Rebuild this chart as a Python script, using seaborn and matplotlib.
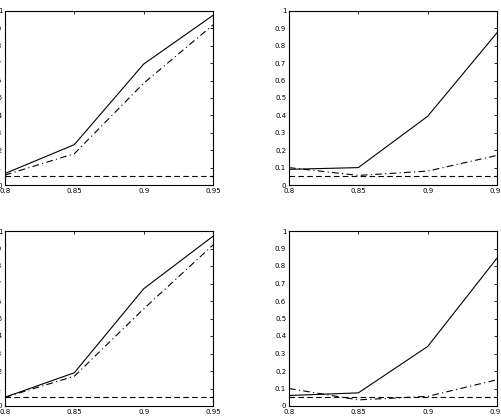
import matplotlib
matplotlib.use("Agg")
import matplotlib.pyplot as plt
import seaborn as sns
import pandas as pd

x = [0.8, 0.85, 0.9, 0.95]

# solid, dash-dot, dashed series per panel
tl_solid = [0.066, 0.232, 0.695, 0.975]
tl_dashdot = [0.057, 0.18, 0.585, 0.92]
tl_dashed = [0.05, 0.05, 0.05, 0.05]

tr_solid = [0.09, 0.10, 0.395, 0.875]
tr_dashdot = [0.10, 0.055, 0.08, 0.17]
tr_dashed = [0.05, 0.05, 0.05, 0.05]

bl_solid = [0.05, 0.19, 0.67, 0.97]
bl_dashdot = [0.05, 0.17, 0.555, 0.92]
bl_dashed = [0.05, 0.05, 0.05, 0.05]

br_solid = [0.06, 0.075, 0.34, 0.845]
br_dashdot = [0.10, 0.035, 0.055, 0.15]
br_dashed = [0.05, 0.05, 0.05, 0.05]

panels = [
    (tl_solid, tl_dashdot, tl_dashed),
    (tr_solid, tr_dashdot, tr_dashed),
    (bl_solid, bl_dashdot, bl_dashed),
    (br_solid, br_dashdot, br_dashed),
]

yticks = [0, 0.1, 0.2, 0.3, 0.4, 0.5, 0.6, 0.7, 0.8, 0.9, 1]
xticks = [0.8, 0.85, 0.9, 0.95]

sns.set_style("white")
plt.rcParams["font.family"] = ["DejaVu Sans"]

W, H = 502, 420
fig = plt.figure(figsize=(W / 100, H / 100), dpi=100)

# axes boxes in pixels: left, top, right, bottom
boxes = [
    (5, 11, 213, 185),
    (289, 11, 497, 185),
    (5, 231, 213, 406),
    (289, 231, 497, 406),
]

for (solid, dashdot, dashed), (l, t, r, b) in zip(panels, boxes):
    ax = fig.add_axes([l / W, 1 - b / H, (r - l) / W, (b - t) / H])
    df = pd.DataFrame({"x": x, "solid": solid, "dashdot": dashdot, "dashed": dashed})
    sns.lineplot(data=df, x="x", y="solid", ax=ax, color="black", linewidth=0.8)
    sns.lineplot(data=df, x="x", y="dashdot", ax=ax, color="black", linewidth=0.8,
                 linestyle=(0, (6, 3, 1, 3)))
    sns.lineplot(data=df, x="x", y="dashed", ax=ax, color="black", linewidth=0.8,
                 linestyle=(0, (5, 3)))
    ax.set_xlim(0.8, 0.95)
    ax.set_ylim(0, 1)
    ax.set_xticks(xticks)
    ax.set_xticklabels(["0.8", "0.85", "0.9", "0.95"])
    ax.set_yticks(yticks)
    ax.set_yticklabels(["0", "0.1", "0.2", "0.3", "0.4", "0.5", "0.6", "0.7", "0.8", "0.9", "1"])
    ax.tick_params(direction="in", length=2.5, width=0.6, labelsize=5, pad=2,
                   top=True, right=True, colors="black")
    ax.set_xlabel("")
    ax.set_ylabel("")
    for s in ax.spines.values():
        s.set_linewidth(0.8)
        s.set_color("black")

fig.savefig("out.png", dpi=100)
